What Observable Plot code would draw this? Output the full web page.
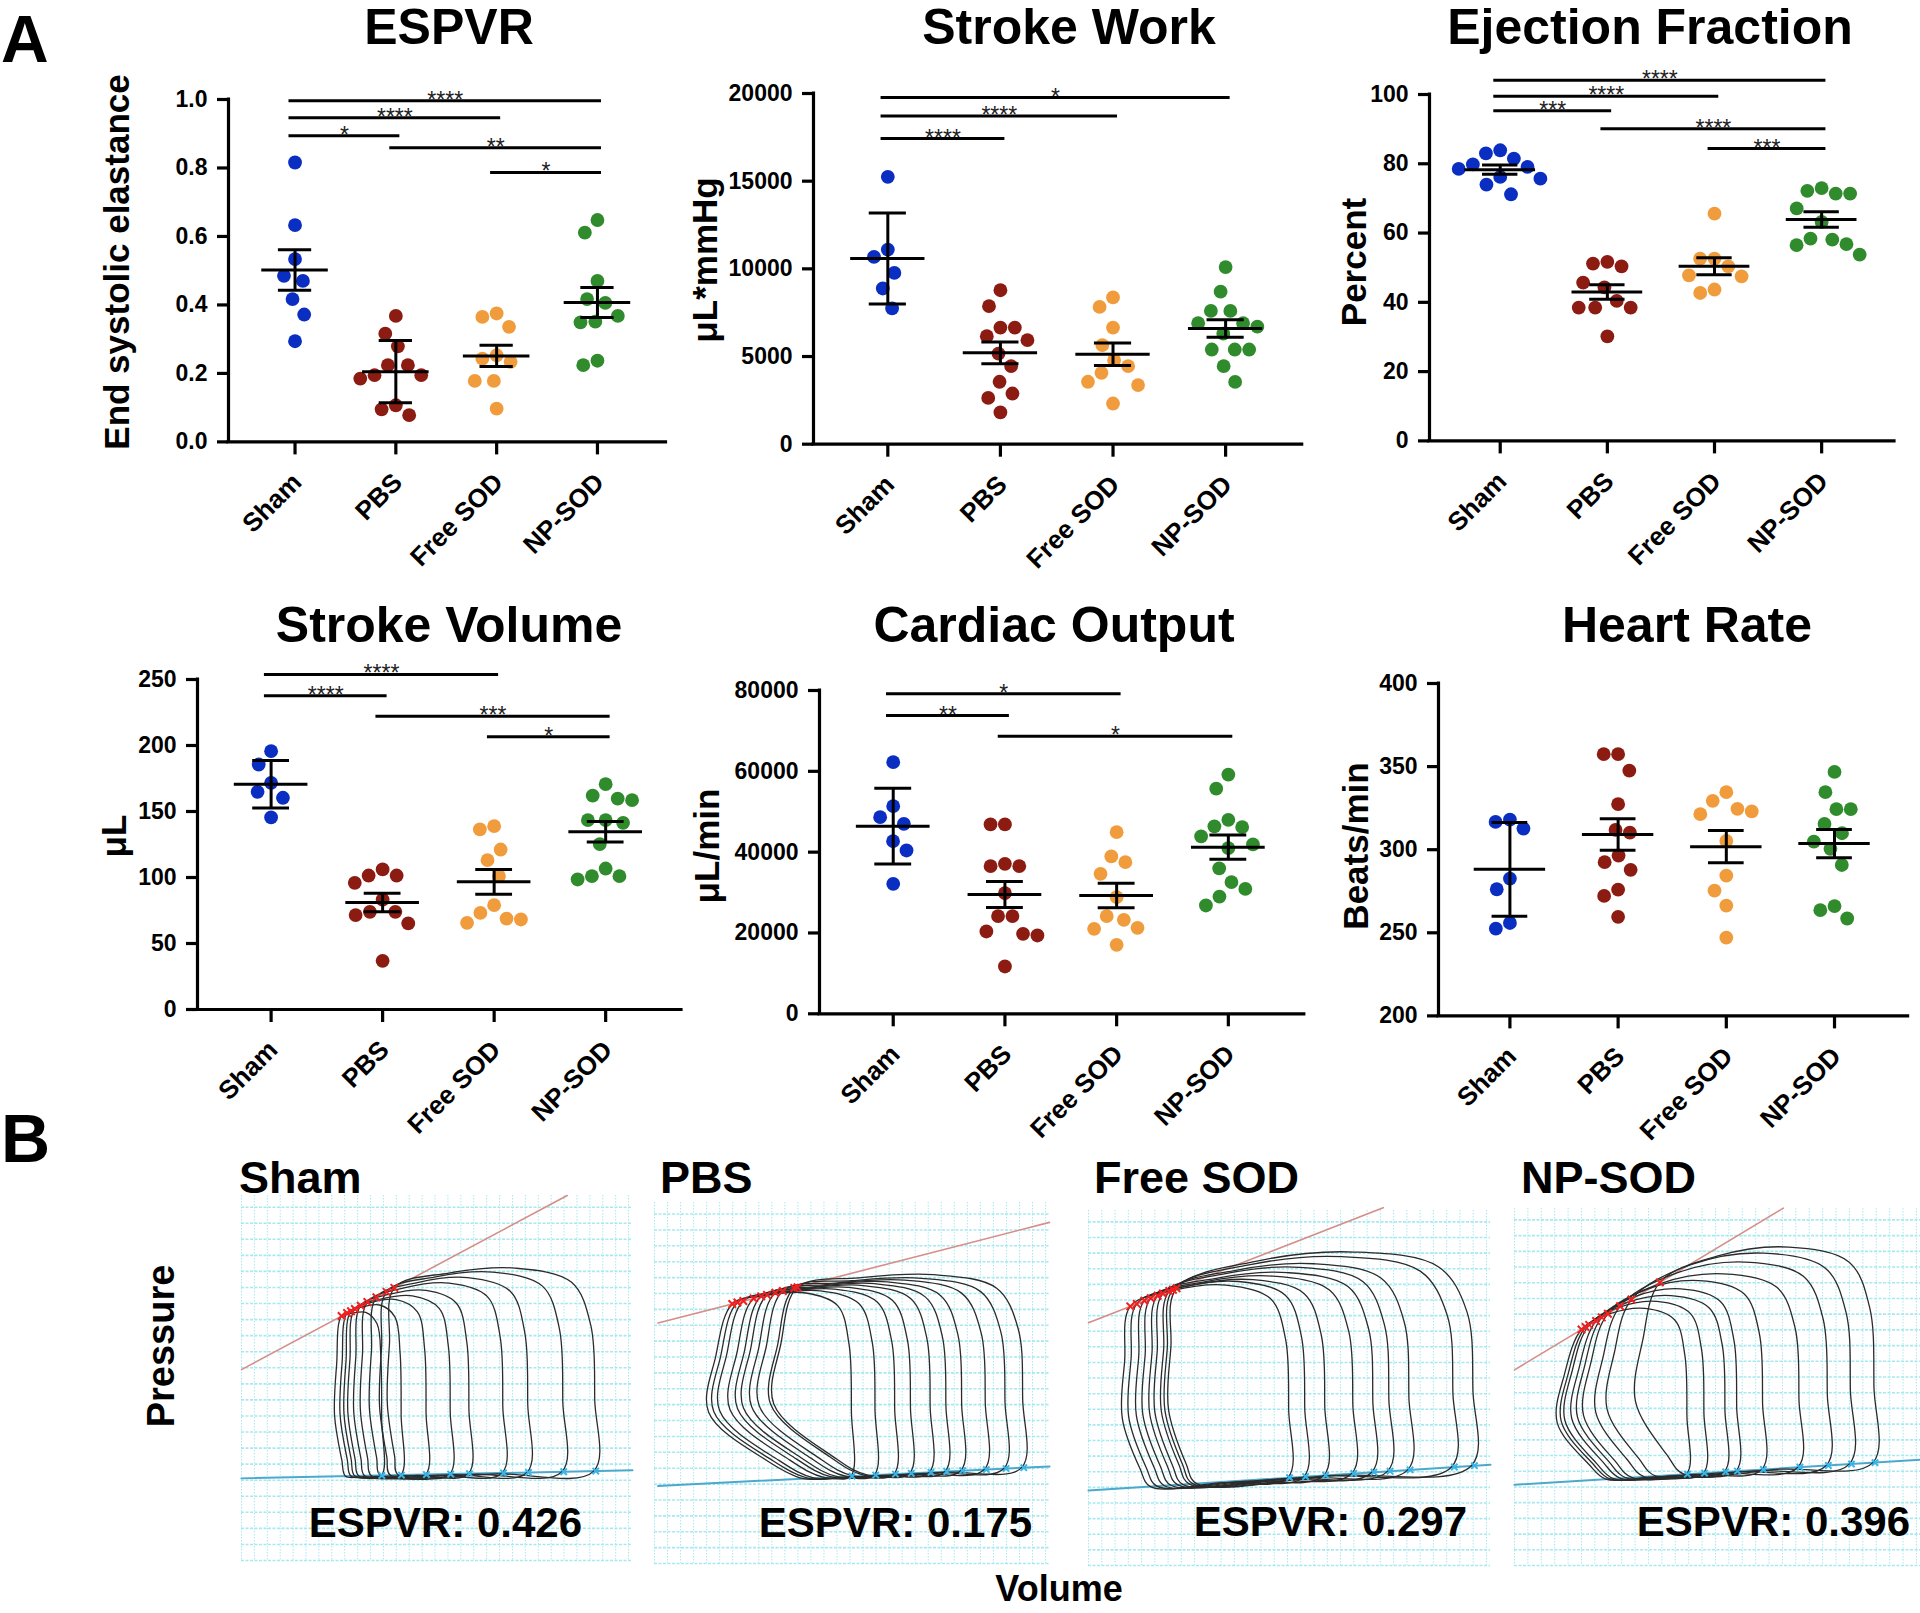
<!DOCTYPE html>
<html>
<head>
<meta charset="utf-8">
<title>Cardiac function after SOD treatment</title>
<script src="https://cdn.jsdelivr.net/npm/d3@7"></script>
<script src="https://cdn.jsdelivr.net/npm/@observablehq/plot@0.6"></script>
<style>
html,body{margin:0;padding:0;background:#fff;overflow:hidden;}
#fig{position:relative;width:1920px;height:1613px;overflow:hidden;background:#fff;}
#fig svg{position:absolute;overflow:visible;max-width:none;}
#fig svg g[aria-label="y-axis tick label"] text{font-weight:700;font-size:23px;}
</style>
</head>
<body>
<div id="fig"></div>
<script>
// ================= DATA =================
const groups = ["Sham", "PBS", "Free SOD", "NP-SOD"];

// ESPVR (end systolic elastance)
const espvrValues = [
  [0.816, 0.633, 0.534, 0.485, 0.470, 0.417, 0.372, 0.294],
  [0.368, 0.316, 0.279, 0.224, 0.224, 0.195, 0.195, 0.185, 0.107, 0.095, 0.078],
  [0.375, 0.365, 0.336, 0.253, 0.243, 0.234, 0.178, 0.178, 0.097],
  [0.648, 0.611, 0.470, 0.417, 0.406, 0.368, 0.351, 0.349, 0.237, 0.224]
];
const espvrMean = [0.502, 0.205, 0.251, 0.407];
const espvrErr = [0.059, 0.091, 0.031, 0.044];
const espvrTicks = [0, 0.2, 0.4, 0.6, 0.8, 1.0];
const espvrSig = [["Sham", "NP-SOD", 0.996, "****"], ["Sham", "Free SOD", 0.947, "****"], ["Sham", "PBS", 0.894, "*"], ["PBS", "NP-SOD", 0.859, "**"], ["Free SOD", "NP-SOD", 0.787, "*"]];

// Stroke work
const swValues = [
  [15250, 11100, 10680, 9770, 8880, 7740],
  [8780, 7870, 6650, 6650, 6160, 5930, 5170, 4450, 3560, 2890, 2640, 1810],
  [8370, 7830, 6650, 5650, 4790, 4450, 4070, 3560, 3370, 2320],
  [10100, 8700, 7600, 7600, 6900, 6900, 6700, 6300, 5400, 5400, 5400, 4450, 3550]
];
const swMean = [10590, 5210, 5130, 6600];
const swErr = [2590, 620, 640, 500];
const swTicks = [0, 5000, 10000, 15000, 20000];
const swSig = [["Sham", "NP-SOD", 19770, "*"], ["Sham", "Free SOD", 18710, "****"], ["Sham", "PBS", 17430, "****"]];

// Ejection fraction
const efValues = [
  [83.9, 83.0, 81.5, 79.8, 79.1, 78.5, 76.2, 75.7, 74.0, 71.2],
  [51.7, 51.2, 50.4, 45.7, 44.3, 40.4, 38.5, 38.5, 38.5, 30.2],
  [65.6, 52.6, 52.6, 50.4, 47.8, 47.5, 43.7, 42.7],
  [73.0, 72.2, 71.4, 71.4, 67.1, 63.2, 58.4, 58.1, 56.8, 56.5, 53.8]
];
const efMean = [78.3, 43.0, 50.4, 63.9];
const efErr = [1.35, 2.1, 2.45, 2.25];
const efTicks = [0, 20, 40, 60, 80, 100];
const efSig = [["Sham", "NP-SOD", 104.1, "****"], ["Sham", "Free SOD", 99.5, "****"], ["Sham", "PBS", 95.3, "***"], ["PBS", "NP-SOD", 90.1, "****"], ["Free SOD", "NP-SOD", 84.4, "***"]];

// Stroke volume
const svValues = [
  [195.7, 185.6, 171.7, 164.9, 160.4, 145.5],
  [106.1, 101.5, 101.5, 96.0, 83.3, 74.0, 74.0, 71.5, 65.2, 36.9],
  [138.9, 136.4, 121.2, 113.1, 101.0, 79.0, 73.2, 68.9, 68.2, 65.7],
  [170.7, 162.1, 159.8, 158.6, 143.4, 143.4, 141.4, 125.3, 106.8, 101.0, 101.0, 98.5]
];
const svMean = [170.7, 81.1, 96.7, 134.6];
const svErr = [18, 7, 9.3, 7.8];
const svTicks = [0, 50, 100, 150, 200, 250];
const svSig = [["Sham", "Free SOD", 253.8, "****"], ["Sham", "PBS", 237.6, "****"], ["PBS", "NP-SOD", 222.2, "***"], ["Free SOD", "NP-SOD", 206.6, "*"]];

// Cardiac output
const coValues = [
  [62270, 51380, 48660, 47010, 42720, 40410, 32170],
  [46850, 46850, 37110, 36540, 36540, 29860, 24170, 24170, 20370, 19790, 19380, 11710],
  [44950, 38930, 37530, 34640, 28870, 24170, 23260, 21280, 21030, 17070],
  [59200, 55700, 48000, 46400, 46200, 43900, 41900, 41000, 36000, 32600, 30900, 29000, 26800]
];
const coMean = [46430, 29530, 29280, 41240];
const coErr = [9360, 3200, 3050, 3000];
const coTicks = [0, 20000, 40000, 60000, 80000];
const coSig = [["Sham", "Free SOD", 79180, "*"], ["Sham", "PBS", 73810, "**"], ["PBS", "NP-SOD", 68700, "*"]];

// Heart rate
const hrValues = [
  [318.1, 316.7, 312.7, 282.6, 276.2, 255.9, 252.5],
  [357.5, 357.5, 347.6, 327.4, 311.9, 310.3, 296.5, 292.5, 287.9, 276.0, 272.2, 259.6],
  [334.6, 329.4, 324.6, 323.0, 321.4, 305.3, 284.4, 275.4, 266.4, 247.1],
  [346.8, 334.6, 324.4, 324.4, 315.5, 309.9, 304.9, 300.5, 290.8, 266.1, 263.6, 258.6]
];
const hrMean = [288.2, 309.1, 301.8, 303.7];
const hrErr = [28.2, 9.5, 9.7, 8.5];
const hrTicks = [200, 250, 300, 350, 400];
const hrSig = [];

// Panel B: pressure-volume loops, [ESV, Pes, EDV, Ptop] in relative units (0-100)
const pvNames = ["Sham", "PBS", "Free SOD", "NP-SOD"];
const pvEspvr = [0.426, 0.175, 0.297, 0.396];
const shamLoops = [[25.6, 67.0, 35.9, 68.0], [27.0, 67.8, 40.9, 70.0], [28.0, 68.3, 47.3, 71.5], [29.0, 68.9, 53.5, 72.5], [30.5, 69.8, 58.3, 74.0], [32.2, 70.8, 67.0, 76.0], [34.5, 72.1, 73.4, 77.5], [37.1, 73.6, 82.4, 79.0], [39.1, 74.7, 90.6, 80.1]];
const pbsLoops = [[19.7, 71.9, 50, 75], [21, 72.3, 56, 75.5], [22.5, 72.7, 61, 76], [25.1, 73.4, 65, 76.5], [27, 74.0, 70, 77], [28.5, 74.4, 74, 77.5], [30.6, 75.0, 78, 78], [32.5, 75.5, 84, 78.5], [35.4, 76.3, 89, 79], [36.2, 76.5, 93.5, 80]];
const freeLoops = [[10.4, 73.0, 50, 79], [12, 73.7, 54, 80], [13.9, 74.6, 59, 80.5], [15.5, 75.3, 66, 81.5], [17.2, 76.0, 71, 82.5], [18.5, 76.6, 75, 84], [20.1, 77.3, 80, 85], [21, 77.7, 91, 87], [21.9, 78.1, 96, 88.3]];
const npLoops = [[16.5, 66.1, 42.6, 72], [17.5, 66.8, 46.8, 74], [18.4, 67.4, 52, 75.6], [20.1, 68.5, 54.9, 77.5], [21.5, 69.5, 61.3, 79.8], [23, 70.5, 70.3, 81.7], [26, 72.6, 77.3, 85], [28.8, 74.5, 83, 87.5], [35.8, 79.3, 88.8, 89.2]];
// ESPVR (red) and EDPVR (blue) line end points, [volume, pressure]
const shamEspvrLine = [[0, 52.3], [83.3, 100]];
const pbsEspvrLine = [[0.9, 66.6], [100, 94.5]];
const freeEspvrLine = [[0, 68.4], [73.3, 100.8]];
const npEspvrLine = [[0, 54.8], [66.2, 100.1]];
const shamEdpvrLine = [[0, 22.5], [100, 24.7]];
const pbsEdpvrLine = [[0.9, 21.5], [100, 26.9]];
const freeEdpvrLine = [[0, 21.1], [100, 28.4]];
const npEdpvrLine = [[0, 22.6], [100, 29.6]];

// ================= STYLE / LAYOUT =================
const FONT = "'Liberation Sans', Arial, Helvetica, sans-serif";
const groupColors = ["#0b2ec2", "#8c1b12", "#f19c3c", "#2f8b2b"];
const fig = document.getElementById("fig");
const X_DOMAIN = [-0.66, 3.68];

// beeswarm layout: vertical distances are shrunk so neighbours spread sideways
function beeswarm(values, pxPerUnit, ymin, r, pad, vfac) {
  const D = 2 * r + pad;
  const order = d3.range(values.length).sort((a, b) => values[b] - values[a]);
  const placed = [];
  const out = new Array(values.length);
  for (const i of order) {
    const py = (values[i] - ymin) * pxPerUnit;
    const cands = [0];
    for (const p of placed) {
      const dy = Math.abs(py - p.y) * vfac;
      if (dy < D) { const h = Math.sqrt(D * D - dy * dy); cands.push(p.x - h, p.x + h); }
    }
    cands.sort((a, b) => Math.abs(a) - Math.abs(b) || a - b);
    let x = 0;
    for (const c of cands) {
      if (placed.every(p => (p.x - c) ** 2 + ((p.y - py) * vfac) ** 2 >= D * D - 1e-6)) { x = c; break; }
    }
    placed.push({x, y: py});
    out[i] = x;
  }
  return out;
}

function scatterPanel(cfg) {
  const {values, mean, err, ticks, fmt, domain, sig, frame} = cfg;
  const mL = 110, mR = 40, mT = 80, mB = 170;
  const fw = frame.R - frame.L, fh = frame.B - frame.T;
  const spacing = fw / (X_DOMAIN[1] - X_DOMAIN[0]);
  const pxPerUnit = fh / (domain[1] - domain[0]);
  const r = 6.9;
  const pts = [];
  values.forEach((vals, g) => {
    const offs = beeswarm(vals, pxPerUnit, domain[0], r, 0.6, 0.55);
    vals.forEach((v, k) => pts.push({g, x: g + offs[k] / spacing, v}));
  });
  const stats = groups.map((name, g) => ({g, m: mean[g], e: err[g]}));
  const sigRows = sig.map(([from, to, y, label]) => ({x1: groups.indexOf(from) - 0.06, x2: groups.indexOf(to) + 0.04, y, label}));
  const plot = Plot.plot({
    width: mL + fw + mR, height: mT + fh + mB,
    marginLeft: mL, marginRight: mR, marginTop: mT, marginBottom: mB,
    x: {domain: X_DOMAIN},
    y: {domain},
    style: {background: "transparent", fontFamily: FONT, color: "#000", overflow: "visible"},
    marks: [
      ...groups.map((_, g) => Plot.dot(pts.filter(p => p.g === g), {x: "x", y: "v", r, fill: groupColors[g]})),
      Plot.ruleY(stats, {y: "m", x1: d => d.g - 0.33, x2: d => d.g + 0.33, strokeWidth: 3}),
      Plot.ruleY(stats, {y: d => d.m + d.e, x1: d => d.g - 0.165, x2: d => d.g + 0.165, strokeWidth: 3}),
      Plot.ruleY(stats, {y: d => d.m - d.e, x1: d => d.g - 0.165, x2: d => d.g + 0.165, strokeWidth: 3}),
      Plot.ruleX(stats, {x: "g", y1: d => d.m - d.e, y2: d => d.m + d.e, strokeWidth: 3}),
      Plot.ruleY(sigRows, {y: "y", x1: "x1", x2: "x2", strokeWidth: 3}),
      Plot.text(sigRows, {x: d => (d.x1 + d.x2) / 2, y: "y", text: "label", lineAnchor: "bottom", dy: 7, fontSize: 23, fill: "#222"}),
      Plot.ruleX([X_DOMAIN[0]], {y1: domain[0], y2: domain[1], strokeWidth: 3.2, strokeLinecap: "square"}),
      Plot.ruleY([domain[0]], {x1: X_DOMAIN[0], x2: X_DOMAIN[1], strokeWidth: 3.2, strokeLinecap: "square"}),
      Plot.axisY({ticks, tickFormat: fmt, tickSize: 11, tickPadding: 10, fontSize: 23, fontWeight: "bold", strokeWidth: 3.2, label: null}),
      Plot.axisX({ticks: [0, 1, 2, 3], tickSize: 13, tickFormat: () => "", strokeWidth: 3.2, label: null}),
      Plot.text(groups, {x: (d, i) => i, y: () => domain[0], text: d => d, rotate: -45, textAnchor: "end", lineAnchor: "bottom", dx: 8, dy: 42, fontSize: 26, fontWeight: "bold"})
    ]
  });
  plot.style.left = (frame.L - mL) + "px";
  plot.style.top = (frame.T - mT) + "px";
  fig.appendChild(plot);
}

function pvPanel(cfg) {
  const {frame, loops, espvrLine, edpvrLine, lean, bulge} = cfg;
  const w = frame.R - frame.L, h = frame.B - frame.T;
  const [[bx0, by0], [bx1, by1]] = edpvrLine;
  const base = v => by0 + (by1 - by0) * (v - bx0) / (bx1 - bx0);
  const pts = [], esPts = [], edPts = [];
  loops.forEach(([a, pes, b, t], k) => {
    const wd = b - a;
    const bl = a + lean, bb = base(bl), be = base(b);
    const tx = b - 0.4 * wd;
    const mid = bl + 0.5 * (b - bl);
    const shape = [
      [bl, bb],
      [mid, base(mid) - 0.2],
      [b - 0.01 * wd, be],
      [b - 0.005 * wd, be + 0.35 * (t - be)],
      [b - 0.025 * wd, be + 0.72 * (t - be)],
      [b - 0.12 * wd, t - 0.07 * (t - be)],
      [tx, t],
      [a + 0.45 * (tx - a), pes + 0.75 * (t - pes)],
      [a, pes],
      [a + 0.7 * bulge, pes - 0.3 * (pes - bb)],
      [a + bulge, pes - 0.62 * (pes - bb)],
      [a + 0.3 * bulge + 0.6 * lean, bb + 0.1 * (pes - bb)]
    ];
    shape.forEach(([v, p]) => pts.push({loop: k, v, p}));
    esPts.push({v: a, p: pes});
    edPts.push({v: b, p: be});
  });
  const toPts = line => line.map(([v, p]) => ({v, p}));
  const plot = Plot.plot({
    width: w, height: h, margin: 0,
    x: {domain: [0, 100], axis: null},
    y: {domain: [0, 100], axis: null},
    style: {background: "transparent", overflow: "visible"},
    marks: [
      Plot.gridX(d3.range(0, 100.1, 3.3), {stroke: "#a6e9f1", strokeOpacity: 1, strokeWidth: 1, strokeDasharray: "1.5,1.5"}),
      Plot.gridY(d3.range(0, 100.1, 4.4), {stroke: "#a6e9f1", strokeOpacity: 1, strokeWidth: 1.6, strokeDasharray: "3,1.5"}),
      Plot.line(toPts(espvrLine), {x: "v", y: "p", stroke: "#d58e88", strokeWidth: 1.6}),
      Plot.line(toPts(edpvrLine), {x: "v", y: "p", stroke: "#4aa9cc", strokeWidth: 2}),
      Plot.line(pts, {x: "v", y: "p", z: "loop", curve: "catmull-rom-closed", stroke: "#2b2b2b", strokeWidth: 1.3}),
      Plot.dot(esPts, {x: "v", y: "p", symbol: "times", r: 3.5, stroke: "#ee2020", strokeWidth: 2}),
      Plot.dot(edPts, {x: "v", y: "p", symbol: "times", r: 3, stroke: "#36b6ea", strokeWidth: 2})
    ]
  });
  plot.style.left = frame.L + "px";
  plot.style.top = frame.T + "px";
  fig.appendChild(plot);
}

// ---------- Panel A ----------
const intFmt = d => String(d);
const panelsA = [
  {values: espvrValues, mean: espvrMean, err: espvrErr, ticks: espvrTicks, fmt: d3.format(".1f"), domain: [0, 1], sig: espvrSig, frame: {L: 227.5, R: 665, T: 99.3, B: 441.7}},
  {values: swValues, mean: swMean, err: swErr, ticks: swTicks, fmt: intFmt, domain: [0, 20000], sig: swSig, frame: {L: 813, R: 1301.7, T: 93.3, B: 444}},
  {values: efValues, mean: efMean, err: efErr, ticks: efTicks, fmt: intFmt, domain: [0, 100], sig: efSig, frame: {L: 1429, R: 1894, T: 94.3, B: 440.7}},
  {values: svValues, mean: svMean, err: svErr, ticks: svTicks, fmt: intFmt, domain: [0, 250], sig: svSig, frame: {L: 197, R: 681, T: 679.3, B: 1009.3}},
  {values: coValues, mean: coMean, err: coErr, ticks: coTicks, fmt: intFmt, domain: [0, 80000], sig: coSig, frame: {L: 819, R: 1303.8, T: 690, B: 1013.3}},
  {values: hrValues, mean: hrMean, err: hrErr, ticks: hrTicks, fmt: intFmt, domain: [200, 400], sig: hrSig, frame: {L: 1437.9, R: 1907.5, T: 683.3, B: 1015.7}}
];
panelsA.forEach(scatterPanel);

// ---------- Panel B ----------
const panelsB = [
  {frame: {L: 241, R: 632, T: 1195, B: 1560}, loops: shamLoops, espvrLine: shamEspvrLine, edpvrLine: shamEdpvrLine, lean: 1, bulge: -1.8},
  {frame: {L: 654, R: 1049, T: 1202, B: 1563}, loops: pbsLoops, espvrLine: pbsEspvrLine, edpvrLine: pbsEdpvrLine, lean: 18, bulge: -6},
  {frame: {L: 1088, R: 1490, T: 1210, B: 1565}, loops: freeLoops, espvrLine: freeEspvrLine, edpvrLine: freeEdpvrLine, lean: 5, bulge: -2},
  {frame: {L: 1514, R: 1920, T: 1208, B: 1565}, loops: npLoops, espvrLine: npEspvrLine, edpvrLine: npEdpvrLine, lean: 6, bulge: -6}
];
panelsB.forEach(pvPanel);

// ---------- Text overlay ----------
const svg = d3.select(fig).append("svg")
  .attr("width", 1920).attr("height", 1613)
  .style("left", "0px").style("top", "0px").style("pointer-events", "none");
function addText(x, y, text, size, anchor = "start", rotate = 0) {
  svg.append("text")
    .attr("transform", `translate(${x},${y}) rotate(${rotate})`)
    .attr("text-anchor", anchor)
    .attr("font-family", FONT).attr("font-weight", "bold").attr("font-size", size)
    .attr("fill", "#000")
    .text(text);
}
const panelTitles = ["ESPVR", "Stroke Work", "Ejection Fraction", "Stroke Volume", "Cardiac Output", "Heart Rate"];
const yTitles = ["End systolic elastance", "μL*mmHg", "Percent", "μL", "μL/min", "Beats/min"];
const titlePos = [[449, 44], [1069, 44], [1650, 44], [449, 642], [1054, 642], [1687, 642]];
const yTitlePos = [[129, 262], [717, 260], [1366, 262], [126, 836], [719, 846], [1368, 846]];
panelTitles.forEach((t, i) => addText(titlePos[i][0], titlePos[i][1], t, 50, "middle"));
yTitles.forEach((t, i) => addText(yTitlePos[i][0], yTitlePos[i][1], t, 35, "middle", -90));
addText(1, 62, "A", 66);
addText(1, 1162, "B", 68);
const pvTitlePos = [[239, 1193], [660, 1193], [1094, 1193], [1521, 1193]];
const pvLabelPos = [[582, 1537], [1032, 1537], [1467, 1536], [1910, 1536]];
pvNames.forEach((n, i) => addText(pvTitlePos[i][0], pvTitlePos[i][1], n, 45));
pvEspvr.forEach((v, i) => addText(pvLabelPos[i][0], pvLabelPos[i][1], "ESPVR: " + v.toFixed(3), 42, "end"));
addText(173.5, 1346, "Pressure", 38, "middle", -90);
addText(1059, 1601, "Volume", 36, "middle");
</script>
</body>
</html>
